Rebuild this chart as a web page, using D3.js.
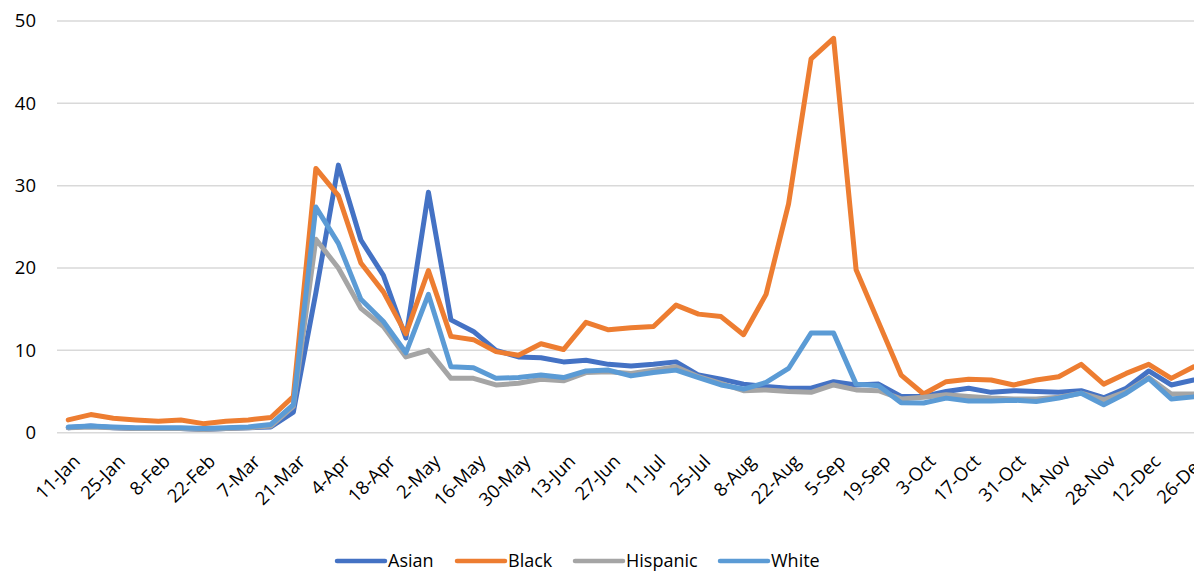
<!DOCTYPE html>
<html>
<head>
<meta charset="utf-8">
<script src="https://cdn.jsdelivr.net/npm/d3@7"></script>
<style>
  html, body { margin: 0; padding: 0; background: #fff; overflow: hidden; }
  svg { display: block; font-family: "Open Sans", "Noto Sans", sans-serif; }
</style>
</head>
<body>
<svg id="chart" width="1194" height="575"></svg>
<script>
// Weekly dates (week ending), 2020
const weeks = [
  "11-Jan","18-Jan","25-Jan","1-Feb","8-Feb","15-Feb","22-Feb","29-Feb","7-Mar","14-Mar",
  "21-Mar","28-Mar","4-Apr","11-Apr","18-Apr","25-Apr","2-May","9-May","16-May","23-May",
  "30-May","6-Jun","13-Jun","20-Jun","27-Jun","4-Jul","11-Jul","18-Jul","25-Jul","1-Aug",
  "8-Aug","15-Aug","22-Aug","29-Aug","5-Sep","12-Sep","19-Sep","26-Sep","3-Oct","10-Oct",
  "17-Oct","24-Oct","31-Oct","7-Nov","14-Nov","21-Nov","28-Nov","5-Dec","12-Dec","19-Dec",
  "26-Dec"
];

const asian = [
  0.6, 0.8, 0.6, 0.5, 0.5, 0.5, 0.4, 0.5, 0.6, 0.7,
  2.5, 17.0, 32.5, 23.4, 19.1, 11.5, 29.2, 13.7, 12.3, 10.0,
  9.2, 9.1, 8.6, 8.8, 8.3, 8.1, 8.3, 8.6, 7.0, 6.5,
  5.9, 5.6, 5.4, 5.4, 6.2, 5.8, 5.9, 4.4, 4.4, 5.0,
  5.4, 4.9, 5.1, 5.0, 4.9, 5.1, 4.25, 5.4, 7.5, 5.8,
  6.4
];

const black = [
  1.55, 2.2, 1.75, 1.55, 1.4, 1.55, 1.1, 1.4, 1.55, 1.85,
  4.4, 32.1, 28.8, 20.6, 17.1, 12.0, 19.7, 11.7, 11.3, 9.85,
  9.4, 10.8, 10.1, 13.4, 12.5, 12.75, 12.9, 15.5, 14.4, 14.1,
  11.9, 16.8, 27.8, 45.4, 47.9, 19.8, 13.4, 7.0, 4.7, 6.2,
  6.5, 6.4, 5.8, 6.4, 6.8, 8.3, 5.9, 7.2, 8.3, 6.6,
  8.0
];

const hispanic = [
  0.6, 0.7, 0.6, 0.5, 0.5, 0.5, 0.4, 0.5, 0.6, 0.8,
  3.2, 23.5, 20.0, 15.1, 12.9, 9.2, 10.0, 6.6, 6.6, 5.8,
  6.0, 6.5, 6.3, 7.3, 7.4, 7.2, 7.6, 8.0, 6.8, 6.0,
  5.1, 5.2, 5.0, 4.9, 5.8, 5.2, 5.1, 4.1, 4.3, 4.6,
  4.4, 4.2, 4.1, 4.1, 4.3, 4.8, 4.0, 5.0, 6.7, 4.7,
  4.7
];

const white = [
  0.7, 0.8, 0.7, 0.6, 0.6, 0.6, 0.5, 0.6, 0.7, 1.0,
  3.4, 27.4, 23.0, 16.2, 13.5, 9.7, 16.8, 8.0, 7.9, 6.6,
  6.7, 7.0, 6.7, 7.5, 7.6, 6.9, 7.3, 7.6, 6.7, 5.8,
  5.3, 6.1, 7.8, 12.1, 12.1, 5.9, 5.7, 3.65, 3.6, 4.2,
  3.85, 3.85, 3.95, 3.8, 4.2, 4.8, 3.4, 4.8, 6.6, 4.1,
  4.35
];

const yTicks = [0, 10, 20, 30, 40, 50];
const xTickLabels = weeks.filter((d, i) => i % 2 === 0);

const seriesNames = ["Asian", "Black", "Hispanic", "White"];
const seriesColors = ["#4472C4", "#ED7D31", "#A5A5A5", "#5B9BD5"];
const seriesValues = [asian, black, hispanic, white];

const svg = d3.select("#chart");

const x = d3.scalePoint().domain(weeks).range([57, 1205]).padding(0.5);
const y = d3.scaleLinear().domain([0, 50]).range([432.7, 21]);

// Horizontal gridlines
svg.append("g")
  .selectAll("line")
  .data(yTicks)
  .join("line")
  .attr("x1", 57).attr("x2", 1205)
  .attr("y1", d => y(d)).attr("y2", d => y(d))
  .attr("stroke", "#D9D9D9")
  .attr("stroke-width", 1.5);

// Y axis labels
const yAxis = d3.axisLeft(y).tickValues(yTicks).tickSize(0).tickPadding(0);
const gy = svg.append("g").attr("transform", "translate(36,0)").call(yAxis);
gy.select(".domain").remove();
gy.selectAll("text")
  .attr("font-size", 18.5)
  .attr("fill", "#000")
  .attr("font-family", "'Open Sans', 'Noto Sans', sans-serif");

// X axis labels, rotated
const xAxis = d3.axisBottom(x).tickValues(xTickLabels).tickSize(0).tickPadding(0);
const gx = svg.append("g").attr("transform", "translate(0,442)").call(xAxis);
gx.select(".domain").remove();
gx.selectAll("text")
  .attr("font-size", 18.5)
  .attr("fill", "#000")
  .attr("font-family", "'Open Sans', 'Noto Sans', sans-serif")
  .attr("text-anchor", "end")
  .attr("dy", "0.35em")
  .attr("transform", "translate(8,16) rotate(-45)")
  .attr("y", 0);

// Series lines
const line = d3.line()
  .x((d, i) => x(weeks[i]))
  .y(d => y(d));

svg.append("g")
  .selectAll("path")
  .data(seriesValues)
  .join("path")
  .attr("d", d => line(d))
  .attr("fill", "none")
  .attr("stroke", (d, i) => seriesColors[i])
  .attr("stroke-width", 5)
  .attr("stroke-linejoin", "round")
  .attr("stroke-linecap", "round");

// Legend
const legendX = [337, 457, 575, 720];
const legend = svg.append("g")
  .selectAll("g")
  .data(seriesNames)
  .join("g")
  .attr("transform", (d, i) => `translate(${legendX[i]},561)`);
legend.append("line")
  .attr("x1", 0).attr("x2", 48)
  .attr("y1", 0).attr("y2", 0)
  .attr("stroke", (d, i) => seriesColors[i])
  .attr("stroke-width", 4.5)
  .attr("stroke-linecap", "round");
legend.append("text")
  .attr("x", 51)
  .attr("y", 0)
  .attr("dy", "0.35em")
  .attr("font-size", 18)
  .attr("fill", "#000")
  .text(d => d);
</script>
</body>
</html>
